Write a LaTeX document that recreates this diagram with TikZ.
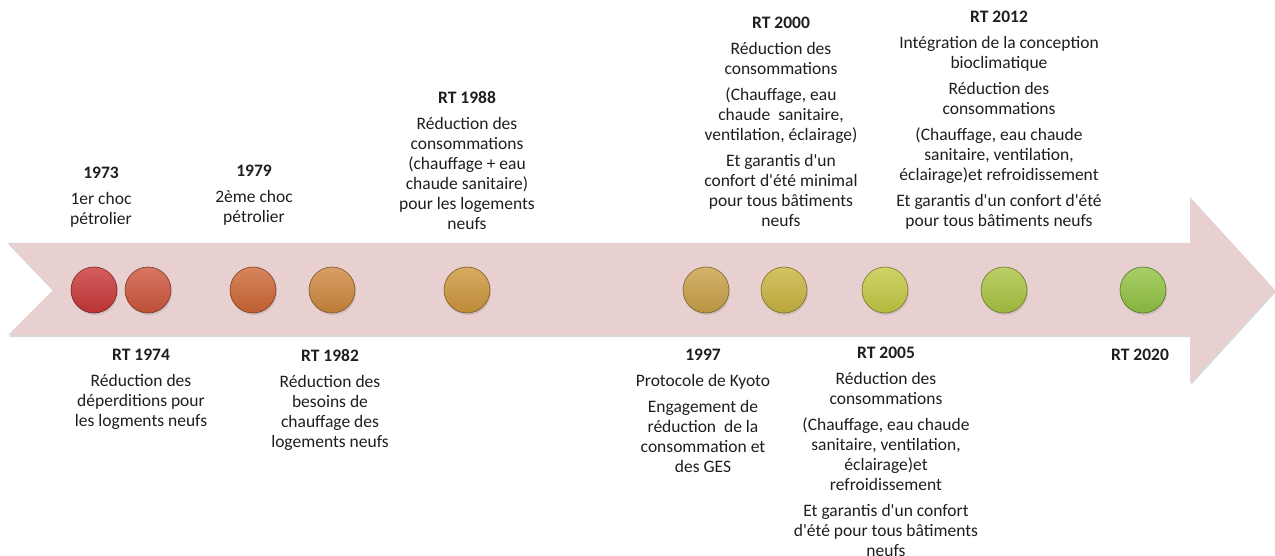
\documentclass[tikz,border=0pt]{standalone}
\usepackage{fontspec}
\setmainfont{Carlito}
\usepackage{tikz}
\usetikzlibrary{shadows}

\definecolor{arrowpink}{RGB}{232,208,208}
\definecolor{txt}{RGB}{30,30,30}
\definecolor{cA}{RGB}{201,55,55}
\definecolor{cB}{RGB}{205,85,60}
\definecolor{cC}{RGB}{205,102,52}
\definecolor{cD}{RGB}{205,135,60}
\definecolor{cE}{RGB}{205,150,60}
\definecolor{cF}{RGB}{200,160,70}
\definecolor{cG}{RGB}{200,180,62}
\definecolor{cH}{RGB}{195,200,66}
\definecolor{cI}{RGB}{170,196,66}
\definecolor{cJ}{RGB}{145,195,66}

\newcommand{\apos}{\textquotesingle}

\tikzset{
  bubble/.style={circle, minimum size=46pt, inner sep=0pt, draw=#1!60!black, line width=0.6pt,
    top color=#1!80!white, bottom color=#1!92!black,
    drop shadow={opacity=0.25, shadow xshift=1pt, shadow yshift=-2pt}},
  event/.style={align=center, text=txt, font=\fontsize{17.5}{20}\selectfont, inner sep=0pt, anchor=north},
}

\begin{document}
\begin{tikzpicture}[x=1pt,y=-1pt]
  \useasboundingbox (0,0) rectangle (1275,556);
  % la fleche
  \fill[arrowpink, drop shadow={opacity=0.3, shadow xshift=1pt, shadow yshift=-2pt}]
    (8,243) -- (1190,243) -- (1190,197) -- (1275,290) -- (1190,383) -- (1190,335) -- (8,335) -- (53,290) -- cycle;

  % les points
  \node[bubble=cA] (p1973) at (94,290) {};
  \node[bubble=cB] (p1974) at (148,290) {};
  \node[bubble=cC] (p1979) at (253,290) {};
  \node[bubble=cD] (p1982) at (332,290) {};
  \node[bubble=cE] (p1988) at (467,290) {};
  \node[bubble=cF] (p1997) at (706,290) {};
  \node[bubble=cG] (p2000) at (784,290) {};
  \node[bubble=cH] (p2005) at (885,290) {};
  \node[bubble=cI] (p2012) at (1004,290) {};
  \node[bubble=cJ] (p2020) at (1143,290) {};

  % au-dessus
  \node[event] (t1973) at (101,167) {\textbf{1973}\\[6pt] 1er choc\\ pétrolier};
  \node[event] (t1979) at (254,165) {\textbf{1979}\\[6pt] 2ème choc\\ pétrolier};
  \node[event] (t1988) at (467,91) {\textbf{RT 1988}\\[6pt] Réduction des\\ consommations\\ (chauffage + eau\\ chaude sanitaire)\\ pour les logements\\ neufs};
  \node[event] (t2000) at (781,17) {\textbf{RT 2000}\\[6pt] Réduction des\\ consommations\\[6pt] (Chauffage, eau\\ chaude\ \ sanitaire,\\ ventilation, éclairage)\\[6pt] Et garantis d\apos un\\ confort d\apos été minimal\\ pour tous bâtiments\\ neufs};
  \node[event] (t2012) at (999,11) {\textbf{RT 2012}\\[6pt] Intégration de la conception\\ bioclimatique\\[6pt] Réduction des\\ consommations\\[6pt] (Chauffage, eau chaude\\ sanitaire, ventilation,\\ éclairage)et refroidissement\\[6pt] Et garantis d\apos un confort d\apos été\\ pour tous bâtiments neufs};

  % en dessous
  \node[event] (t1974) at (141,349) {\textbf{RT 1974}\\[6pt] Réduction des\\ déperditions pour\\ les logments neufs};
  \node[event] (t1982) at (330,349) {\textbf{RT 1982}\\[6pt] Réduction des\\ besoins de\\ chauffage des\\ logements neufs};
  \node[event] (t1997) at (703,349) {\textbf{1997}\\[6pt] Protocole de Kyoto\\[6pt] Engagement de\\ réduction\ \ de la\\ consommation et\\ des GES};
  \node[event] (t2005) at (886,347) {\textbf{RT 2005}\\[6pt] Réduction des\\ consommations\\[6pt] (Chauffage, eau chaude\\ sanitaire, ventilation,\\ éclairage)et\\ refroidissement\\[6pt] Et garantis d\apos un confort\\ d\apos été pour tous bâtiments\\ neufs};
  \node[event] (t2020) at (1140,349) {\textbf{RT 2020}};
\end{tikzpicture}
\end{document}
